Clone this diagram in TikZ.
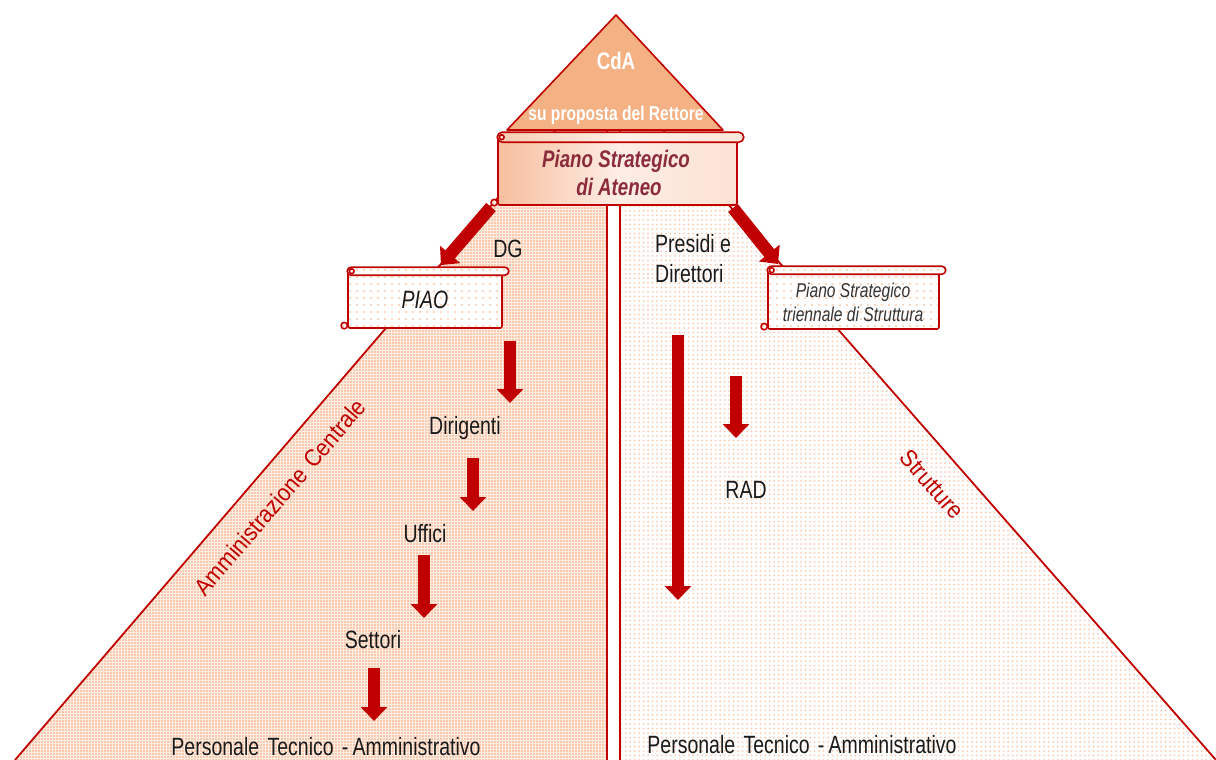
\documentclass[tikz,border=0pt]{standalone}
\usepackage{fontspec}
\setmainfont{Liberation Sans}
\newfontfamily\narrowsans{Liberation Sans}[FakeStretch=0.78]
\newfontfamily\slimsans{Liberation Sans}[FakeStretch=0.9]
\usetikzlibrary{arrows.meta,patterns.meta,calc}

\definecolor{dred}{HTML}{C00000}
\definecolor{peach}{HTML}{F4B183}
\definecolor{ink}{HTML}{1A1A1A}
\definecolor{grayink}{HTML}{333333}
\definecolor{wine}{HTML}{8B2B3B}
\definecolor{densebase}{HTML}{FEEDE2}
\definecolor{densedot}{HTML}{F4A478}
\definecolor{lightdot}{HTML}{F9CBAE}
\definecolor{shadeL}{HTML}{F7BE9E}
\definecolor{shadeM}{HTML}{FDEDE4}
\definecolor{shadeR}{HTML}{FCE2D4}
\definecolor{rollL}{HTML}{F9CDB2}
\definecolor{rollM}{HTML}{FDF0E8}
\definecolor{rollR}{HTML}{FCE6DA}

% decorations of a horizontal scroll around its body node:
% #1 body node, #2 fill options, #3 half height of the top roll
\newcommand\scrolltrim[3]{%
  \draw[scrollline,#2,rounded corners=#3pt]
    ($(#1.north west)+(0,-#3)$) rectangle ($(#1.north east)+(6,#3)$);
  \draw[scrollline,#2] ($(#1.north west)+(4.5,0)$) circle (2.4pt);
  \draw[scrollline,#2] ($(#1.south west)+(-3,-3.2)$) circle (3.2pt);
}

\tikzset{
  edge/.style={draw=dred, line width=1.8pt},
  scrollline/.style={draw=dred, line width=1.6pt, line join=round},
  scrollbody/.style={scrollline, rectangle, inner sep=0pt, rounded corners=2pt},
  dotted fill/.style={preaction={fill=white},
    pattern={Dots[distance=7pt,radius=1.1pt]}, pattern color=lightdot},
  blockarrow/.style={draw=dred, line width=12.5pt,
    -{Triangle[width=26pt,length=14pt]}},
  lbl/.style={text=ink, inner sep=0pt, anchor=base,
    font=\narrowsans\fontsize{25}{30}\selectfont},
  sidelbl/.style={text=dred, inner sep=0pt,
    font=\slimsans\fontsize{24}{28}\selectfont},
}

\begin{document}
\begin{tikzpicture}[x=1pt,y=-1pt]
\useasboundingbox (0,0) rectangle (1216,760);

% left half: central administration
\fill[densebase] (556,130) -- (607,130) -- (607,760) -- (15,760) -- cycle;
\fill[pattern={Dots[distance=3pt,radius=0.9pt]}, pattern color=densedot]
  (556,130) -- (607,130) -- (607,760) -- (15,760) -- cycle;
% right half: structures
\fill[pattern={Dots[distance=4.5pt,radius=1pt]}, pattern color=lightdot]
  (620,130) -- (663,130) -- (1216,760) -- (620,760) -- cycle;

\draw[edge] (556,130) -- (15,760);
\draw[edge] (607,130) -- (607,760);
\draw[edge] (620,130) -- (620,760);
\draw[edge] (663,130) -- (1216,760);

% apex: board of directors
\draw[draw=dred, line width=1.6pt, fill=peach, line join=round]
  (616,15) -- (723,130) -- (507,130) -- cycle;
\node[text=white, inner sep=0pt, anchor=base,
  font=\narrowsans\bfseries\fontsize{24}{28}\selectfont] (cda) at (616,70) {CdA};
\node[text=white, inner sep=0pt, anchor=base,
  font=\narrowsans\bfseries\fontsize{20}{24}\selectfont] (rettore) at (616,121)
  {su proposta del Rettore};

% block arrows
\coordinate (dgfrom) at (491,207);
\coordinate (dgto) at (441,265);
\coordinate (prfrom) at (733,208);
\coordinate (prto) at (778,264);
\draw[blockarrow] (dgfrom) -- (dgto);
\draw[blockarrow] (prfrom) -- (prto);

\coordinate (a1) at (510,341); \coordinate (b1) at (510,403);
\coordinate (a2) at (473,458); \coordinate (b2) at (473,511);
\coordinate (a3) at (424,555); \coordinate (b3) at (424,618);
\coordinate (a4) at (374,668); \coordinate (b4) at (374,721);
\coordinate (a5) at (678,335); \coordinate (b5) at (678,600);
\coordinate (a6) at (736,376); \coordinate (b6) at (736,438);
\foreach \i in {1,...,6} {\draw[blockarrow] (a\i) -- (b\i);}

% strategic plan of the university
\node[scrollbody, minimum width=239pt, minimum height=67pt,
  left color=shadeL, right color=shadeR, middle color=shadeM]
  (ateneo) at (617.5,171.5) {};
\scrolltrim{ateneo}{left color=rollL, right color=rollR, middle color=rollM}{5}
\node[text=wine, inner sep=0pt, anchor=base,
  font=\narrowsans\bfseries\itshape\fontsize{24}{28}\selectfont] (psa1) at (616,167)
  {Piano Strategico};
\node[text=wine, inner sep=0pt, anchor=base,
  font=\narrowsans\bfseries\itshape\fontsize{24}{28}\selectfont] (psa2) at (619,195)
  {di Ateneo};

% PIAO
\node[scrollbody, dotted fill, minimum width=154pt, minimum height=56pt]
  (piao) at (425,300) {};
\scrolltrim{piao}{dotted fill}{4}
\node[lbl, font=\narrowsans\itshape\fontsize{25}{30}\selectfont] (piaotxt) at (425,308) {PIAO};

% three-year plan of the structures
\node[scrollbody, dotted fill, minimum width=171pt, minimum height=58pt]
  (pst) at (853.5,300) {};
\scrolltrim{pst}{dotted fill}{4}
\node[lbl, text=grayink, font=\narrowsans\itshape\fontsize{20}{24}\selectfont]
  (pst1) at (853,297) {Piano Strategico};
\node[lbl, text=grayink, font=\narrowsans\itshape\fontsize{20}{24}\selectfont]
  (pst2) at (853,321) {triennale di Struttura};

% labels
\node[lbl] (dg) at (508,257) {DG};
\node[lbl, anchor=base west] (presidi) at (655,252) {Presidi e};
\node[lbl, anchor=base west] (direttori) at (655,282) {Direttori};
\node[lbl] (dirigenti) at (465,434) {Dirigenti};
\node[lbl] (uffici) at (425,542) {Uffici};
\node[lbl] (settori) at (373,648) {Settori};
\node[lbl] (rad) at (746,498) {RAD};
\node[lbl] (ptaleft) at (326,755) {Personale\,\,Tecnico\,\,-\,Amministrativo};
\node[lbl] (ptaright) at (802,753) {Personale\,\,Tecnico\,\,-\,Amministrativo};

\node[sidelbl, rotate=49.4] (amm) at (280,497) {Amministrazione\,\,Centrale};
\node[sidelbl, rotate=-48.9] (strutt) at (932,484) {Strutture};
\end{tikzpicture}
\end{document}
